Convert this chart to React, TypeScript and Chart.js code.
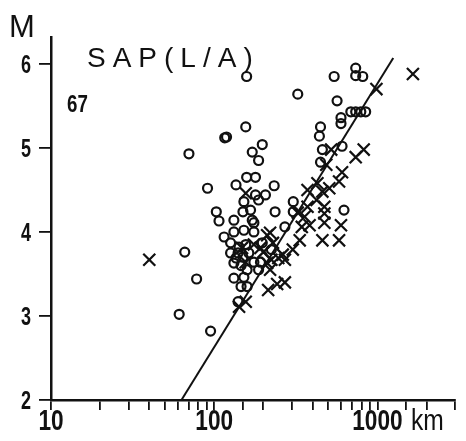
import React, { useEffect, useRef } from 'react';
import { Chart, registerables } from 'chart.js';

Chart.register(...registerables);

// ---- data (distance in km, magnitude M) ----
const xLabelValues = [10, 100, 1000];
const yTickValues = [2, 3, 4, 5, 6];
const titleText = 'SAP(L/A)';
const panelNumber = '67';
const yAxisTitle = 'M';
const xUnit = 'km';

const circlePoints: [number, number][] = [
  [66, 3.76], [78, 3.44], [61, 3.02], [95, 2.82], [70, 4.93], [116, 5.12], [119, 5.13],
  [91, 4.52], [136, 4.56], [103, 4.24], [107, 4.13], [115, 3.94], [158, 5.85], [156, 5.25],
  [171, 4.95], [197, 5.04], [187, 4.85], [158, 4.65], [179, 4.65], [233, 4.55], [325, 5.64],
  [543, 5.85], [736, 5.95], [736, 5.86], [813, 5.85], [566, 5.56], [687, 5.43], [736, 5.43],
  [791, 5.43], [847, 5.43], [598, 5.36], [598, 5.29], [448, 5.25], [441, 5.14], [607, 5.02],
  [460, 4.98], [448, 4.83], [624, 4.26], [271, 4.06], [305, 4.36], [305, 4.24], [236, 4.24],
  [206, 4.44], [179, 4.44], [175, 4.11], [187, 3.55], [152, 4.36], [187, 4.38], [132, 4.14],
  [150, 4.24], [167, 4.26], [171, 4.14], [132, 4.0], [152, 4.02], [175, 4.0], [126, 3.87],
  [140, 3.75], [163, 3.75], [175, 3.64], [126, 3.75], [132, 3.63], [192, 3.64], [132, 3.45],
  [152, 3.46], [146, 3.35], [159, 3.35], [140, 3.17], [197, 3.87], [224, 3.79], [142, 3.82],
  [156, 3.85], [150, 3.7], [136, 3.69], [146, 3.6], [159, 3.55],
];

const crossPoints: [number, number][] = [
  [40, 3.67], [1650, 5.88], [986, 5.7], [824, 4.98], [736, 4.89], [607, 4.71], [582, 4.6],
  [507, 4.52], [521, 4.98], [486, 4.8], [373, 4.5], [429, 4.58], [460, 4.48], [473, 4.3],
  [373, 4.3], [424, 4.38], [325, 4.23], [358, 4.18], [473, 4.22], [344, 4.06], [384, 4.08],
  [473, 4.11], [460, 3.9], [334, 3.9], [598, 4.08], [582, 3.9], [303, 3.79], [271, 3.67],
  [247, 3.69], [220, 3.99], [229, 3.87], [211, 3.63], [220, 3.55], [214, 3.31], [243, 3.38],
  [271, 3.4], [156, 3.17], [142, 3.11], [211, 3.96], [200, 3.76], [224, 3.67], [263, 3.73],
  [148, 3.81], [175, 3.85], [156, 3.64], [192, 3.81], [156, 4.46],
];

const fitLine: [number, number][] = [[63, 2.0], [1250, 6.07]];

const INK = '#111111';
const SANS = "'Liberation Sans', Arial, sans-serif";

function narrowText(
  ctx: CanvasRenderingContext2D, text: string, x: number, y: number,
  font: string, sx: number, align: CanvasTextAlign,
) {
  ctx.save();
  ctx.translate(x, y);
  ctx.scale(sx, 1);
  ctx.font = font;
  ctx.textAlign = align;
  ctx.textBaseline = 'alphabetic';
  ctx.fillText(text, 0, 0);
  ctx.restore();
}

export default function App() {
  const ref = useRef<HTMLCanvasElement>(null);

  useEffect(() => {
    if (!ref.current) return;

    const annotations = {
      id: 'annotations',
      afterDraw(chart: any) {
        const ctx = chart.ctx as CanvasRenderingContext2D;
        const xs = chart.scales.x;
        const ys = chart.scales.y;
        ctx.save();
        ctx.fillStyle = INK;
        ctx.textBaseline = 'alphabetic';
        ctx.textAlign = 'left';
        ctx.font = `31px ${SANS}`;
        ctx.fillText(yAxisTitle, 9, 37);
        ctx.font = `28px ${SANS}`;
        (ctx as any).letterSpacing = '7px';
        ctx.fillText(titleText, 87, 67);
        (ctx as any).letterSpacing = '0px';
        narrowText(ctx, panelNumber, 67, 112, `bold 24px ${SANS}`, 0.78, 'left');
        // x tick labels
        for (const v of xLabelValues) {
          const px = xs.getPixelForValue(v);
          narrowText(ctx, String(v), px, 430, `bold 29px ${SANS}`, 0.78, 'center');
        }
        narrowText(ctx, xUnit, 411, 430, `30px ${SANS}`, 0.82, 'left');
        // y tick labels
        for (const v of yTickValues) {
          const py = ys.getPixelForValue(v);
          narrowText(ctx, String(v), 31, py + 9, `bold 25px ${SANS}`, 0.72, 'right');
        }
        ctx.restore();
      },
    };

    const chart = new Chart(ref.current, {
      type: 'scatter',
      data: {
        datasets: [
          {
            label: 'circles',
            data: circlePoints.map(([x, y]) => ({ x, y })),
            pointStyle: 'circle',
            pointRadius: 4.5,
            borderWidth: 2.2,
            borderColor: INK,
            backgroundColor: 'rgba(0,0,0,0)',
          },
          {
            label: 'crosses',
            data: crossPoints.map(([x, y]) => ({ x, y })),
            pointStyle: 'crossRot',
            pointRadius: 8.5,
            borderWidth: 2.2,
            borderColor: INK,
            backgroundColor: INK,
          },
          {
            label: 'fit',
            type: 'line',
            data: fitLine.map(([x, y]) => ({ x, y })),
            showLine: true,
            pointRadius: 0,
            borderColor: INK,
            borderWidth: 2,
            fill: false,
          } as any,
        ],
      },
      options: {
        animation: false,
        responsive: false,
        layout: { padding: { top: 37, right: 1, left: 0, bottom: 0 } },
        plugins: { legend: { display: false }, tooltip: { enabled: false } },
        scales: {
          x: {
            type: 'logarithmic',
            position: 'bottom',
            min: 10,
            max: 3000,
            border: { display: true, color: INK, width: 2.5 },
            grid: { drawOnChartArea: false, drawTicks: true, tickLength: 10, color: INK, lineWidth: 1.8 },
            ticks: {
              autoSkip: false,
              maxRotation: 0,
              font: { size: 10 },
              callback: () => '',
            },
            afterFit: (s: any) => { s.height = 41; },
          },
          y: {
            type: 'linear',
            min: 2,
            max: 6.32,
            border: { display: true, color: INK, width: 2.5 },
            grid: { drawOnChartArea: false, drawTicks: true, tickLength: 12, color: INK, lineWidth: 1.8 },
            afterBuildTicks: (s: any) => { s.ticks = yTickValues.map((v) => ({ value: v })); },
            ticks: {
              font: { size: 10 },
              callback: () => '',
            },
            afterFit: (s: any) => { s.width = 51; },
          },
        },
      } as any,
      plugins: [annotations],
    });

    return () => chart.destroy();
  }, []);

  return (
    <div style={{ position: 'absolute', left: 0, top: 0, width: 466, height: 441, background: '#fff' }}>
      <canvas ref={ref} width={466} height={441} />
    </div>
  );
}
